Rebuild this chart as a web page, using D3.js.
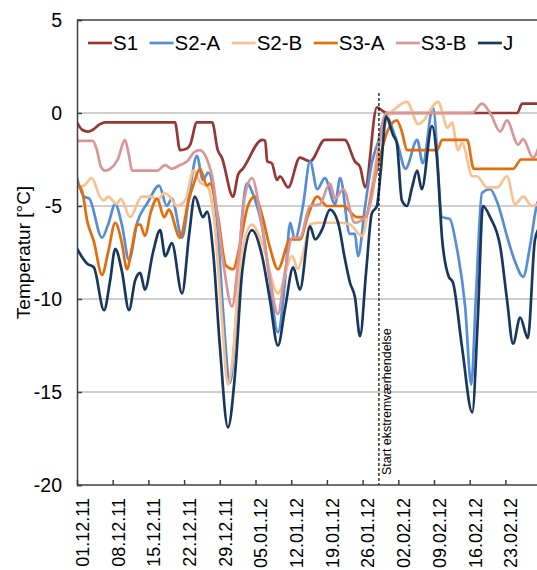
<!DOCTYPE html>
<html>
<head>
<meta charset="utf-8">
<script src="https://cdn.jsdelivr.net/npm/d3@7"></script>
<style>
  body { margin: 0; background: #fff; }
  svg { font-family: "Liberation Sans", Arial, sans-serif; }
</style>
</head>
<body>
<svg id="chart" width="537" height="570"></svg>
<script>
// days counted from 01.12.11
const tickDays = [0, 7, 14, 21, 28, 35, 42, 49, 56, 63, 70, 77, 84];
const tickLabels = ["01.12.11", "08.12.11", "15.12.11", "22.12.11", "29.12.11", "05.01.12",
  "12.01.12", "19.01.12", "26.01.12", "02.02.12", "09.02.12", "16.02.12", "23.02.12"];
const yTicks = [-20, -15, -10, -5, 0, 5];
const eventDay = 59.2;
const eventLabel = "Start ekstremværhendelse";

const seriesNames = ["S1", "S2-A", "S2-B", "S3-A", "S3-B", "J"];

// [day, °C]
const s1 = [[0,-0.5],[1,-0.9],[2.2,-1.0],[3.1,-0.9],[4.5,-0.6],[5.5,-0.5],[19.2,-0.5],[20.2,-2.0],
  [21.6,-1.9],[22.2,-1.7],[23.5,-0.5],[26.5,-0.5],[27.6,-2.0],[28.4,-2.4],[30.6,-4.5],[31.6,-3.3],
  [32.5,-3.0],[36.3,-1.45],[36.9,-1.5],[37.3,-2.6],[38.2,-2.7],[39.2,-3.6],[39.8,-3.4],[41.4,-4.0],
  [43.7,-2.4],[45.7,-2.6],[48.6,-1.45],[52.5,-1.45],[54.5,-2.6],[55.5,-2.9],[56.5,-4.0],[58.8,0.3],
  [60,0.1],[60.8,0],[86.3,0],[87.3,0.5],[91,0.5]];

const s2a = [[0,-3.5],[1.4,-4.5],[2.4,-4.6],[4.9,-6.7],[6.1,-6.0],[7.5,-4.9],[8.8,-6.0],[10.2,-7.9],
  [11.8,-5.9],[13.9,-4.8],[16.1,-3.9],[17.6,-5.0],[18.6,-4.6],[20.6,-6.7],[22.2,-4.0],[23.5,-2.3],
  [24.7,-3.6],[25.7,-3.2],[27.6,-6.3],[28.6,-10.5],[30,-14.5],[31.2,-11],[32.4,-5.5],[33.3,-3.8],
  [34.7,-4.5],[36.3,-6.1],[37.8,-9.0],[39.4,-11.8],[40.8,-9.0],[41.8,-5.9],[42.7,-6.8],[44.3,-5.0],
  [45.7,-2.6],[47.1,-4.1],[48.6,-3.5],[50.6,-4.9],[51.6,-3.5],[53.5,-6.5],[54.5,-6.5],[55.1,-7.7],
  [56.5,-5.0],[57.8,-2.7],[59,-1.6],[60.6,-0.1],[61.8,-0.8],[63,-1.8],[64.4,-3.0],[66.7,-1.45],
  [67.8,-2.7],[69.8,0.3],[71.6,-5.6],[73.1,-5.7],[74.3,-7.0],[76.1,-10.4],[77.3,-14.6],[78.2,-10],
  [79.4,-4.3],[81,-4.1],[82.4,-4.8],[84.5,-6.8],[85.9,-8.0],[87.5,-8.8],[88.8,-7.2],[90.2,-4.9],[91,-4.5]];

const s2b = [[0,-4.0],[1.4,-3.9],[2.9,-3.5],[4.5,-4.5],[5.3,-4.7],[6.1,-4.5],[7.8,-4.9],[8.6,-4.6],
  [10.4,-5.6],[12.7,-4.5],[14.7,-4.5],[15.7,-4.7],[17.1,-4.3],[18.2,-4.5],[19.6,-5.0],[21.2,-4.7],
  [22.9,-3.1],[24.1,-3.7],[25.7,-4.0],[27,-6],[28.4,-11],[29.6,-14.6],[30.6,-13],[32,-8],[34.3,-6.0],
  [36.3,-7.0],[39.4,-9.7],[42.2,-7.7],[43.3,-8.4],[44.4,-7.5],[45.7,-6.0],[47.3,-5.9],[51.6,-5.9],
  [53.5,-6.0],[55.9,-6.6],[57.5,-4.5],[59,-2.0],[60.8,-0.3],[62.7,0.3],[64.7,0.6],[66.9,-0.6],
  [67.6,-0.5],[70.8,0.6],[72.7,-0.8],[73.5,-0.5],[74.7,-2.0],[75.5,-1.6],[77.5,-3.4],[78.4,-3.4],
  [80.4,-4.0],[82.4,-4.0],[84.3,-3.4],[85.9,-4.9],[87.5,-4.5],[89.2,-5.0],[91,-4.8]];

const s3a = [[0,-3.8],[1,-4.2],[2,-5.8],[3.3,-6.9],[4.9,-8.7],[6.1,-7.5],[7.5,-5.9],[8.8,-7.0],
  [9.8,-8.4],[10.8,-7.2],[11.8,-6.0],[12.4,-6.0],[13.3,-6.6],[14.5,-5.3],[15.7,-4.6],[17.1,-5.6],
  [18,-5.2],[20.2,-6.7],[21.8,-4.8],[22.9,-3.8],[24.1,-3.0],[25.5,-3.9],[26.1,-3.8],[27.6,-5.5],
  [29.2,-8.2],[30.6,-8.4],[32,-7.0],[33.5,-5.0],[34.9,-4.5],[36.3,-5.5],[37.8,-7.2],[39.4,-8.4],
  [41.8,-6.8],[43.7,-6.8],[45.3,-5.5],[47.1,-4.5],[49,-5.0],[52.2,-5.0],[54.9,-5.6],[56.5,-5.6],
  [58.4,-3.5],[61,-0.9],[62.7,-0.4],[63.7,-1.0],[64.7,-2.0],[70.6,-2.0],[71.6,-1.45],[76.5,-1.45],
  [77.8,-3.0],[85.5,-3.0],[87.1,-2.5],[91,-2.5]];

const s3b = [[0,-1.5],[3.1,-1.5],[3.9,-2.0],[4.7,-2.9],[5.5,-3.1],[6.5,-3.0],[8,-2.5],[9.4,-1.45],
  [10.2,-2.3],[10.8,-3.1],[15.7,-3.1],[17.3,-2.8],[18.6,-3.0],[20.2,-2.8],[21.6,-2.6],[23,-2.1],
  [24.1,-2.0],[25.5,-2.5],[26.5,-3.4],[28.6,-7.9],[30.4,-10.4],[31.6,-8.0],[32.9,-4.5],[34.3,-3.5],
  [36.3,-6.1],[37.8,-8.8],[39.4,-10.8],[40.8,-8.5],[42.2,-6.7],[43.7,-6.7],[45.7,-5.0],[47.6,-4.9],
  [49.6,-3.8],[50.6,-4.6],[52.2,-4.1],[54.5,-5.9],[56.5,-5.6],[57.8,-4.5],[59.4,-1.5],[60.6,0],
  [77.5,0],[79.4,0.5],[81,0],[83,-1.0],[84.3,-0.4],[86.5,-1.7],[87.5,-1.4],[89.4,-2.4],[91,-1.4]];

const sJ = [[0,-7.3],[2,-8.1],[3.3,-8.3],[5.3,-10.6],[6.5,-9.0],[7.5,-7.3],[8.8,-8.5],[10.2,-10.6],
  [11.4,-9.0],[12.4,-8.6],[13.3,-9.5],[14.9,-7.5],[16.3,-6.3],[17.3,-7.7],[18.6,-7.0],[20.6,-9.7],
  [22,-6.5],[23.1,-4.5],[24.7,-5.6],[25.5,-5.3],[26.7,-7.5],[28,-12.5],[29.6,-16.9],[31,-14],
  [32.4,-8.5],[34.3,-6.3],[36.3,-7.7],[37.8,-10],[39.4,-12.5],[40.8,-10.5],[42.4,-8.3],[43.7,-9.5],
  [45.7,-6.1],[46.7,-6.8],[48,-6.3],[49.6,-5.2],[51.2,-5.9],[52.5,-7.8],[53.5,-9.1],[54.5,-9.9],
  [55.5,-12.0],[56.7,-8.5],[57.8,-5.4],[58.8,-5.0],[59.6,-3.0],[60.6,-0.2],[62,-1.2],[62.7,-1.6],
  [63.7,-4.7],[64.7,-5.0],[65.7,-4.0],[66.7,-3.1],[67.6,-4.1],[69.6,-0.7],[70.6,-2.5],[71.6,-6.8],
  [72.9,-8.8],[73.7,-9.1],[75.5,-12.6],[77.5,-16.1],[78.6,-11],[79.6,-5.0],[81,-5.6],[83,-7.2],
  [84.3,-10],[85.5,-12.4],[86.9,-11.0],[88.4,-12.1],[89.8,-6.8],[91,-6.0]];

const seriesData = [s1, s2a, s2b, s3a, s3b, sJ];
const colors = ["#953735", "#558ED5", "#FAC090", "#E46C0A", "#D99694", "#17375E"];

const svg = d3.select("#chart");
const mLeft = 77, mTop = 20, mBottom = 485, mRight = 537;

const x = d3.scaleLinear().domain([0, 91]).range([mLeft, mLeft + 91 * 5.1]);
const y = d3.scaleLinear().domain([-20, 5]).range([mBottom, mTop]);

// gridlines
svg.append("g")
  .selectAll("line")
  .data(yTicks.filter(d => d > -20 && d < 5))
  .enter().append("line")
    .attr("x1", mLeft).attr("x2", mRight)
    .attr("y1", d => y(d)).attr("y2", d => y(d))
    .attr("stroke", "#BFBFBF").attr("stroke-width", 1.3);

// top border
svg.append("line")
  .attr("x1", mLeft).attr("x2", mRight)
  .attr("y1", y(5)).attr("y2", y(5))
  .attr("stroke", "#404040").attr("stroke-width", 1.5);

svg.append("clipPath").attr("id", "plot")
  .append("rect").attr("x", mLeft).attr("y", mTop).attr("width", mRight - mLeft).attr("height", mBottom - mTop);

const line = d3.line()
  .x(d => x(d[0]))
  .y(d => y(d[1]))
  .curve(d3.curveMonotoneX);

svg.append("g").attr("clip-path", "url(#plot)")
  .selectAll("path")
  .data(seriesData)
  .enter().append("path")
    .attr("d", line)
    .attr("fill", "none")
    .attr("stroke", (d, i) => colors[i])
    .attr("stroke-width", 2.7)
    .attr("stroke-linejoin", "round");

// event marker
svg.append("line")
  .attr("x1", x(eventDay)).attr("x2", x(eventDay))
  .attr("y1", 93).attr("y2", mBottom)
  .attr("stroke", "#000").attr("stroke-width", 1.2)
  .attr("stroke-dasharray", "3,2");
svg.append("text")
  .attr("transform", "translate(" + (x(eventDay) + 3) + "," + 475 + ") rotate(-90)")
  .attr("dy", "0.75em")
  .style("font-size", "12.5px")
  .text(eventLabel);

// y axis
let yAxis = svg.append("g")
  .attr("transform", "translate(" + mLeft + ",0)")
  .call(d3.axisRight(y).tickValues(yTicks).tickSize(5).tickFormat(d3.format("d")));
yAxis.select(".domain").attr("stroke", "#404040").attr("stroke-width", 1.5);
yAxis.selectAll(".tick line").attr("stroke", "#404040").attr("stroke-width", 1.5);
yAxis.selectAll("text")
  .attr("x", -15)
  .attr("text-anchor", "end")
  .style("font-size", "19.5px")
  .attr("fill", "#000")
  .text(d => d < 0 ? "-" + Math.abs(d) : d);

// x axis
let xAxis = svg.append("g")
  .attr("transform", "translate(0," + mBottom + ")")
  .call(d3.axisTop(x).tickValues(tickDays).tickSize(5).tickFormat((d, i) => tickLabels[i]));
xAxis.select(".domain").attr("stroke", "#404040").attr("stroke-width", 1.5).attr("d", "M" + mLeft + ",0H" + mRight);
xAxis.selectAll(".tick line").attr("stroke", "#404040").attr("stroke-width", 1.5);
xAxis.selectAll("text")
  .attr("transform", "translate(5,13) rotate(-90)")
  .attr("x", 0).attr("y", 0)
  .attr("dy", "0.35em")
  .attr("text-anchor", "end")
  .style("font-size", "18px")
  .attr("fill", "#000");

// y label
svg.append("text")
  .attr("transform", "translate(30," + (mTop + mBottom) / 2 + ") rotate(-90)")
  .attr("text-anchor", "middle")
  .style("font-size", "19px")
  .text("Temperatur [°C]");

// legend
let lx = 88;
seriesNames.forEach((name, i) => {
  const g = svg.append("g");
  g.append("line")
    .attr("x1", lx).attr("x2", lx + 24)
    .attr("y1", 43).attr("y2", 43)
    .attr("stroke", colors[i]).attr("stroke-width", 2.7);
  const t = g.append("text")
    .attr("x", lx + 25).attr("y", 43)
    .attr("dy", "0.36em")
    .style("font-size", "20.5px")
    .text(name);
  lx += 25 + t.node().getComputedTextLength() + 11.5;
});
</script>
</body>
</html>
